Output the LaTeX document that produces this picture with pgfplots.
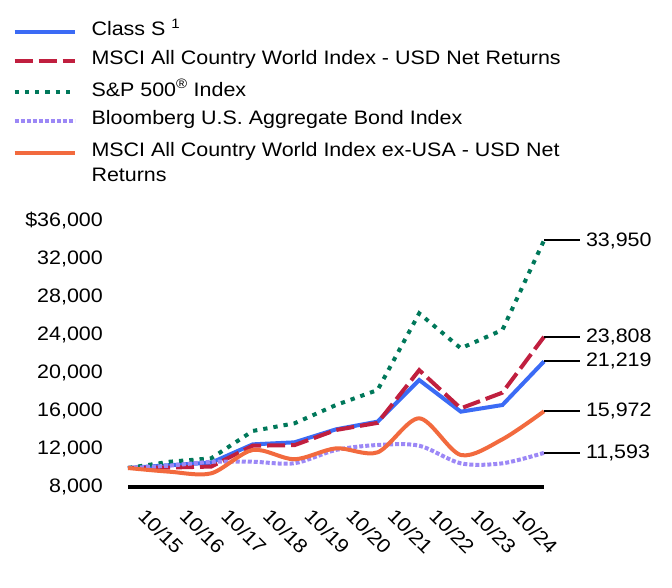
\documentclass[border=0pt]{standalone}
\usepackage{fontspec}
\setmainfont{Liberation Sans}[FakeStretch=1.1]
\usepackage{pgfplots}
\pgfplotsset{compat=1.18}
\definecolor{cS}{HTML}{3B6BF5}
\definecolor{cACWI}{HTML}{C01F3F}
\definecolor{cSP}{HTML}{00785A}
\definecolor{cAGG}{HTML}{9C88F6}
\definecolor{cEX}{HTML}{F26A3E}
\begin{document}
\begin{tikzpicture}[font=\fontsize{19.5pt}{25pt}\selectfont]
\useasboundingbox (0,0) rectangle (672pt,-588pt);
\begin{axis}[
  at={(128pt,-487pt)}, anchor=south west,
  scale only axis, width=416pt, height=266pt,
  xmin=0, xmax=10, ymin=8000, ymax=36000,
  clip=false,
  scaled y ticks=false,
  axis x line=bottom, axis y line=left,
  x axis line style={line width=4pt, black, -},
  y axis line style={draw=none},
  major tick length=0pt,
  xtick={0,...,9},
  xticklabels={10/15,10/16,10/17,10/18,10/19,10/20,10/21,10/22,10/23,10/24},
  xticklabel style={xshift=19pt, yshift=-20pt, rotate=-45, anchor=north west, inner sep=0pt},
  ytick={8000,12000,16000,20000,24000,28000,32000,36000},
  yticklabels={{8,000},{12,000},{16,000},{20,000},{24,000},{28,000},{32,000},{\$36,000}},
  yticklabel style={anchor=east, inner sep=0pt, xshift=-25pt},
  font=\fontsize{19.5pt}{25pt}\selectfont,
  legend style={at={(axis description cs:-0.2853,1.7755)}, anchor=north west, draw=none, fill=none,
    font=\fontsize{19.5pt}{25pt}\selectfont, row sep=9pt, column sep=13pt,
    nodes={inner sep=2pt, anchor=base west}},
  legend cell align=left,
  legend image code/.code={\draw[#1] (-1pt,0.36em) -- (59pt,0.36em);},
  every axis plot/.append style={line width=4pt, line cap=butt},
]
\addplot[cS] coordinates {(0,10000)(1,10300)(2,10560)(3,12490)(4,12700)(5,14070)(6,14880)(7,19260)(8,15930)(9,16630)(10,21219)};
\addlegendentry{Class S \textsuperscript{1}}
\addplot[cACWI, dash pattern=on 18pt off 6pt] coordinates {(0,10000)(1,10050)(2,10150)(3,12350)(4,12400)(5,14000)(6,14750)(7,20300)(8,16280)(9,17930)(10,23808)};
\addlegendentry{MSCI All Country World Index - USD Net Returns}
\addplot[cSP, dash pattern=on 4.3pt off 6pt] coordinates {(0,10000)(1,10660)(2,11020)(3,13900)(4,14700)(5,16630)(6,18210)(7,26280)(8,22600)(9,24530)(10,33950)};
\addlegendentry{S\&P 500\textsuperscript{®} Index}
\addplot[cAGG, dash pattern=on 4pt off 2pt, smooth] coordinates {(0,10000)(1,10250)(2,10650)(3,10660)(4,10500)(5,11900)(6,12420)(7,12350)(8,10490)(9,10490)(10,11593)};
\addlegendentry{Bloomberg U.S. Aggregate Bond Index}
\addplot[cEX, smooth] coordinates {(0,10000)(1,9610)(2,9440)(3,11900)(4,10920)(5,12070)(6,11650)(7,15230)(8,11370)(9,13020)(10,15972)};
\addlegendentry{\begin{tabular}[t]{@{}l@{}}MSCI All Country World Index ex-USA - USD Net\\Returns\end{tabular}}
\draw[line width=2pt] (axis cs:10,33950) -- ++(36pt,0pt) node[right, inner sep=5pt] {33,950};
\draw[line width=2pt] (axis cs:10,23808) -- ++(36pt,0pt) node[right, inner sep=5pt] {23,808};
\draw[line width=2pt] (axis cs:10,21219) -- ++(36pt,0pt) node[right, inner sep=5pt] {21,219};
\draw[line width=2pt] (axis cs:10,15972) -- ++(36pt,0pt) node[right, inner sep=5pt] {15,972};
\draw[line width=2pt] (axis cs:10,11593) -- ++(36pt,0pt) node[right, inner sep=5pt] {11,593};
\end{axis}
\end{tikzpicture}
\end{document}
